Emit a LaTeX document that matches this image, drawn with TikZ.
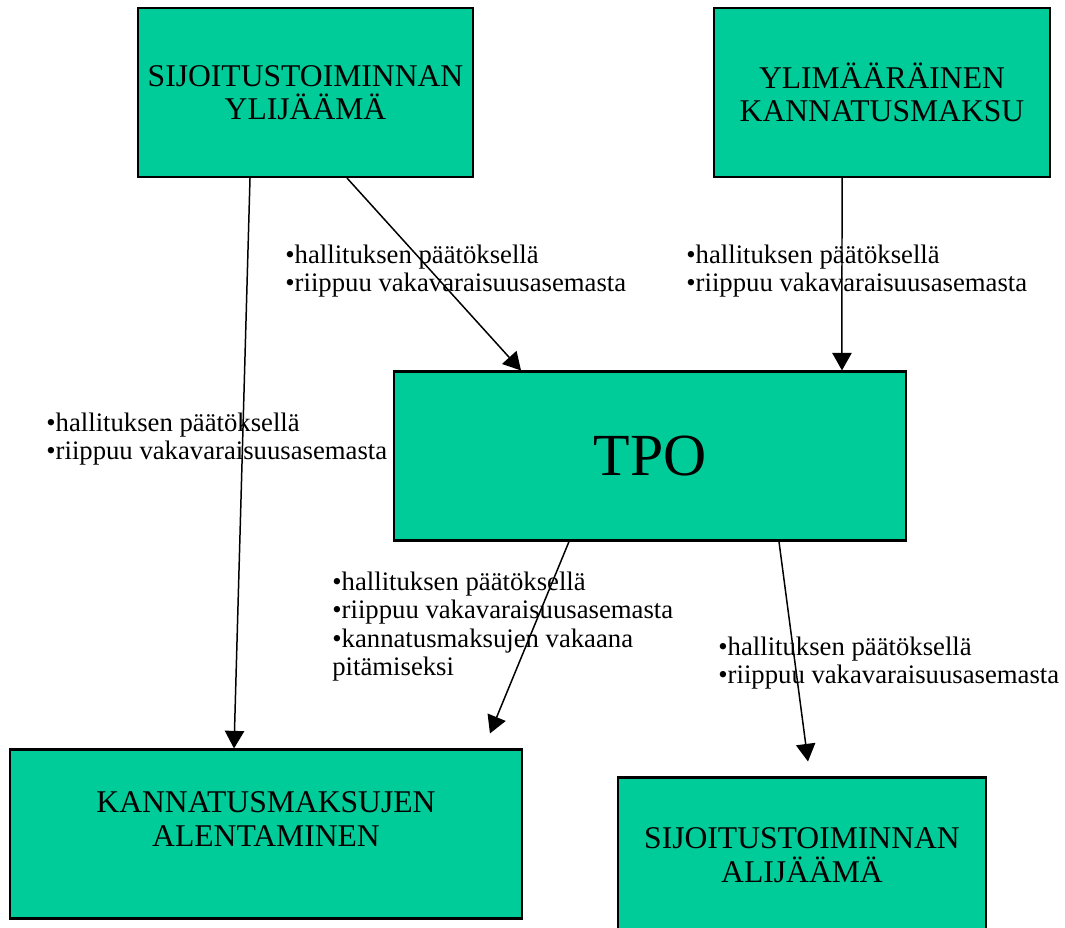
\documentclass[tikz,border=0pt]{standalone}
\usepackage{fontspec}
\setmainfont{Liberation Serif}
\usetikzlibrary{arrows.meta}
\definecolor{boxgreen}{RGB}{0,204,153}

\begin{document}
\begin{tikzpicture}[x=0.02cm,y=-0.02cm,
  box/.style={draw=black,line width=1.2pt,fill=boxgreen,minimum width=#1,minimum height=3.38cm,inner sep=0pt,align=center,font=\fontsize{18}{19}\selectfont},
  boxtext/.style={align=center,inner sep=0pt,font=\fontsize{18}{19}\selectfont},
  note/.style={anchor=north west,inner sep=0pt,align=left,font=\fontsize{15.2}{16}\selectfont},
  arrow/.style={line width=0.85pt,-{Triangle[length=10pt,width=11pt]}}]
%---------------------Frame------------------%
\useasboundingbox (0,0) rectangle (1065,928);
\clip (0,0) rectangle (1065,928);

%---------------------Boxes------------------%
\node[box=6.7cm] (ylijaama) at (305.5,92.5) {SIJOITUSTOIMINNAN\\YLIJÄÄMÄ};
\node[box=6.72cm] (ylimaarainen) at (882,92.5) {YLIMÄÄRÄINEN\\KANNATUSMAKSU};
\node[box=10.24cm,font=\fontsize{34}{36}\selectfont] (tpo) at (650,456) {TPO};
\node[box=10.24cm,label={[boxtext,yshift=0.3cm]center:KANNATUSMAKSUJEN\\ALENTAMINEN}] (alentaminen) at (266,834) {};
\node[box=7.36cm,label={[boxtext,yshift=0.14cm]center:SIJOITUSTOIMINNAN\\ALIJÄÄMÄ}] (alijaama) at (802,862) {};
%--------------------------------------------------------%

%---------------------Notes------------------%
\node[note] (note1) at (285,245) {•hallituksen päätöksellä\\•riippuu vakavaraisuusasemasta};
\node[note] (note2) at (686,245) {•hallituksen päätöksellä\\•riippuu vakavaraisuusasemasta};
\node[note] (note3) at (46,413) {•hallituksen päätöksellä\\•riippuu vakavaraisuusasemasta};
\node[note] (note4) at (332,572) {•hallituksen päätöksellä\\•riippuu vakavaraisuusasemasta\\•kannatusmaksujen vakaana\\pitämiseksi};
\node[note] (note5) at (718,637) {•hallituksen päätöksellä\\•riippuu vakavaraisuusasemasta};
%--------------------------------------------------------%

%---------------------Arrows------------------%
\draw[arrow] ([xshift=-1.11cm]ylijaama.south) -- ([xshift=-0.64cm]alentaminen.north);
\draw[arrow] ([xshift=0.83cm]ylijaama.south) -- ([xshift=-2.58cm]tpo.north);
\draw[arrow] ([xshift=-0.8cm]ylimaarainen.south) -- ([xshift=3.84cm]tpo.north);
\draw[arrow] ([xshift=-1.62cm]tpo.south) -- ([xshift=4.48cm,yshift=0.3cm]alentaminen.north);
\draw[arrow] ([xshift=2.58cm]tpo.south) -- ([xshift=0.12cm,yshift=0.3cm]alijaama.north);
\end{tikzpicture}
\end{document}
